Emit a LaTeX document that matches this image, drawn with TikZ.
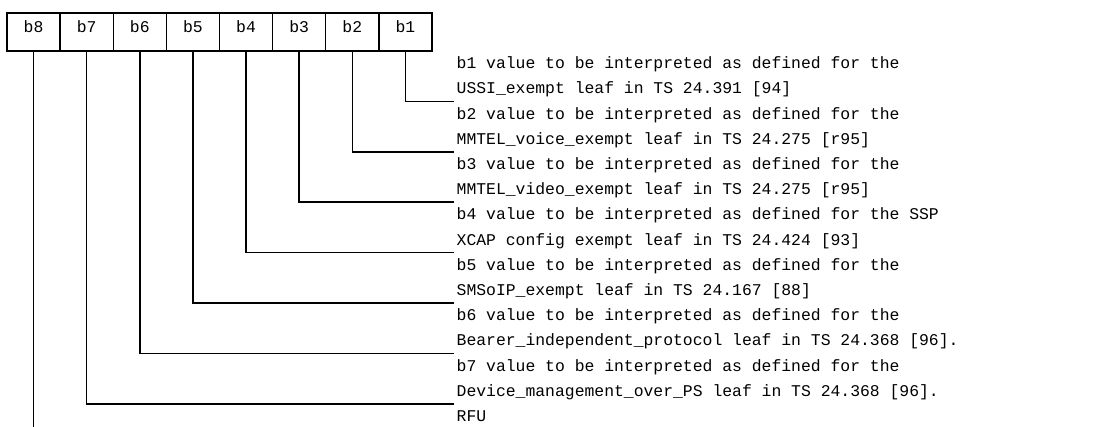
\documentclass[tikz,border=0pt]{standalone}
\usepackage{fontspec}
\setmonofont{Liberation Mono}
\usetikzlibrary{positioning}

\begin{document}
\begin{tikzpicture}[x=0.75pt,y=-0.75pt,line width=1.1pt,
  every node/.style={font=\ttfamily\fontsize{12.3pt}{18.9pt}\selectfont},
  bitbox/.style={draw,minimum width=39.84pt,minimum height=28.5pt,inner sep=0pt,outer sep=0pt,text height=7pt,text depth=7pt},
  desc/.style={anchor=north west,align=left,inner ysep=0pt,inner xsep=2pt,outer sep=0pt}]
  \useasboundingbox (0,0) rectangle (1113,426);
  % the octet
  \node[bitbox,anchor=north west] (b8) at (7,13) {b8};
  \node[bitbox,right=0pt of b8] (b7) {b7};
  \node[bitbox,right=0pt of b7] (b6) {b6};
  \node[bitbox,right=0pt of b6] (b5) {b5};
  \node[bitbox,right=0pt of b5] (b4) {b4};
  \node[bitbox,right=0pt of b4] (b3) {b3};
  \node[bitbox,right=0pt of b3] (b2) {b2};
  \node[bitbox,right=0pt of b2] (b1) {b1};
  % meaning of each bit
  \node[desc] (d1) at (454,51) {\strut b1 value to be interpreted as defined for the\\USSI\_exempt leaf in TS 24.391 [94]\strut};
  \node[desc] (d2) at (d1.south west) {\strut b2 value to be interpreted as defined for the\\MMTEL\_voice\_exempt leaf in TS 24.275 [r95]\strut};
  \node[desc] (d3) at (d2.south west) {\strut b3 value to be interpreted as defined for the\\MMTEL\_video\_exempt leaf in TS 24.275 [r95]\strut};
  \node[desc] (d4) at (d3.south west) {\strut b4 value to be interpreted as defined for the SSP\\XCAP config exempt leaf in TS 24.424 [93]\strut};
  \node[desc] (d5) at (d4.south west) {\strut b5 value to be interpreted as defined for the\\SMSoIP\_exempt leaf in TS 24.167 [88]\strut};
  \node[desc] (d6) at (d5.south west) {\strut b6 value to be interpreted as defined for the\\Bearer\_independent\_protocol leaf in TS 24.368 [96].\strut};
  \node[desc] (d7) at (d6.south west) {\strut b7 value to be interpreted as defined for the\\Device\_management\_over\_PS leaf in TS 24.368 [96].\strut};
  \node[desc] (rfu) at (d7.south west) {\strut RFU};
  % leaders
  \draw (b1.south) |- (d1.south west);
  \draw (b2.south) |- (d2.south west);
  \draw (b3.south) |- (d3.south west);
  \draw (b4.south) |- (d4.south west);
  \draw (b5.south) |- (d5.south west);
  \draw (b6.south) |- (d6.south west);
  \draw (b7.south) |- (d7.south west);
  \draw (b8.south) -- (b8.south |- rfu.south);
\end{tikzpicture}
\end{document}
